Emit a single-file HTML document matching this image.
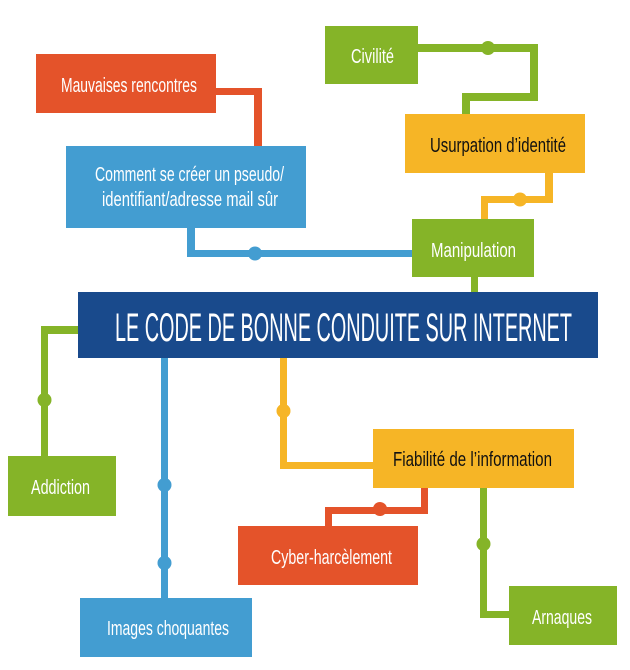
<!DOCTYPE html>
<html><head><meta charset="utf-8"><style>html,body{margin:0;padding:0;background:#fff}svg{display:block}text{font-family:"Liberation Sans Narrow","Liberation Sans",sans-serif;font-size:20px;fill:#fff}</style></head><body>
<svg width="630" height="670" viewBox="0 0 630 670" xmlns="http://www.w3.org/2000/svg">
<g fill="#E4532A"><rect x="216" y="88" width="46" height="7"/><rect x="254" y="88" width="8" height="60"/></g>
<g fill="#439DD1"><rect x="187" y="226" width="8" height="31"/><rect x="187" y="250" width="227" height="7"/><circle cx="255" cy="253.5" r="7"/></g>
<g fill="#85B428"><rect x="416" y="44" width="122" height="8"/><rect x="530" y="44" width="8" height="57"/><rect x="462" y="93" width="76" height="8"/><rect x="462" y="93" width="8" height="23"/><circle cx="488" cy="48" r="7"/></g>
<g fill="#F6B526"><rect x="545" y="171" width="8" height="32"/><rect x="481" y="196" width="72" height="7"/><rect x="481" y="196" width="7" height="25"/><circle cx="520" cy="199.5" r="7"/></g>
<rect x="471" y="275" width="7" height="18" fill="#85B428"/>
<g fill="#85B428"><rect x="41" y="326" width="39" height="8"/><rect x="41" y="326" width="7" height="132"/><circle cx="44.5" cy="400" r="7"/></g>
<g fill="#439DD1"><rect x="161" y="356" width="7" height="244"/><circle cx="164.5" cy="485" r="7"/><circle cx="164.5" cy="563" r="7"/></g>
<g fill="#F6B526"><rect x="280" y="356" width="7" height="113"/><rect x="280" y="462" width="95" height="7"/><circle cx="283.5" cy="411" r="7"/></g>
<g fill="#E4532A"><rect x="421" y="486" width="7" height="28"/><rect x="325" y="507" width="103" height="7"/><rect x="325" y="507" width="7" height="21"/><circle cx="380" cy="509" r="7"/></g>
<g fill="#85B428"><rect x="480" y="486" width="7" height="132"/><rect x="480" y="611" width="31" height="7"/><circle cx="483.5" cy="544" r="7"/></g>
<rect x="36" y="54" width="180" height="59" fill="#E4532A"/>
<rect x="66" y="146" width="240" height="82" fill="#439DD1"/>
<rect x="325" y="26" width="93" height="58" fill="#85B428"/>
<rect x="405" y="114" width="180" height="59" fill="#F6B526"/>
<rect x="412" y="219" width="122" height="58" fill="#85B428"/>
<rect x="78" y="292" width="520" height="66" fill="#194A8C"/>
<rect x="8" y="456" width="108" height="60" fill="#85B428"/>
<rect x="80" y="598" width="172" height="59" fill="#439DD1"/>
<rect x="373" y="429" width="201" height="59" fill="#F6B526"/>
<rect x="238" y="526" width="180" height="59" fill="#E4532A"/>
<rect x="509" y="586" width="108" height="59" fill="#85B428"/>
<text x="61" y="92" textLength="136" lengthAdjust="spacingAndGlyphs">Mauvaises rencontres</text>
<text x="95" y="181" textLength="189" lengthAdjust="spacingAndGlyphs">Comment se créer un pseudo/</text>
<text x="102" y="206" textLength="176" lengthAdjust="spacingAndGlyphs">identifiant/adresse mail sûr</text>
<text x="351" y="63" textLength="43" lengthAdjust="spacingAndGlyphs">Civilité</text>
<text x="430" y="152" textLength="136" lengthAdjust="spacingAndGlyphs" style="fill:#111">Usurpation d’identité</text>
<text x="431" y="257" textLength="85" lengthAdjust="spacingAndGlyphs">Manipulation</text>
<text x="115" y="341" textLength="457" lengthAdjust="spacingAndGlyphs" style="font-size:40px">LE CODE DE BONNE CONDUITE SUR INTERNET</text>
<text x="31" y="494" textLength="59" lengthAdjust="spacingAndGlyphs">Addiction</text>
<text x="107" y="635" textLength="122" lengthAdjust="spacingAndGlyphs">Images choquantes</text>
<text x="393" y="466" textLength="159" lengthAdjust="spacingAndGlyphs" style="fill:#111">Fiabilité de l’information</text>
<text x="271" y="564" textLength="121" lengthAdjust="spacingAndGlyphs">Cyber-harcèlement</text>
<text x="532" y="624" textLength="60" lengthAdjust="spacingAndGlyphs">Arnaques</text>
</svg>
</body></html>
